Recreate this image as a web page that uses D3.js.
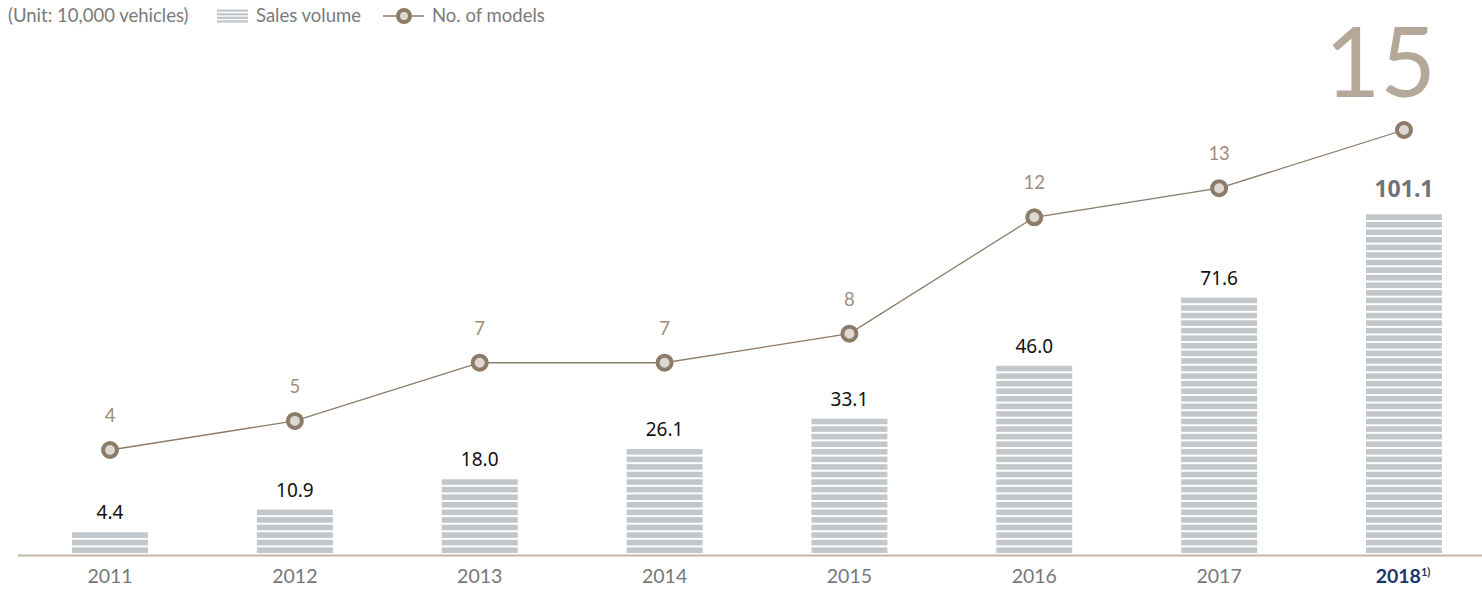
<!DOCTYPE html>
<html>
<head>
<meta charset="utf-8">
<script src="https://cdn.jsdelivr.net/npm/d3@7"></script>
<style>
  body { margin: 0; background: #fff; }
  svg { display: block; }
</style>
</head>
<body>
<script>
var years = ["2011", "2012", "2013", "2014", "2015", "2016", "2017", "2018"];
var sales = [4.4, 10.9, 18.0, 26.1, 33.1, 46.0, 71.6, 101.1];
var models = [4, 5, 7, 7, 8, 12, 13, 15];

var w = 1482;
var h = 589;
var base = 553;      // bottom of the bars
var period = 7.57;   // stripe pitch
var stripeH = 5.6;

var svg = d3.select("body").append("svg")
  .attr("width", w)
  .attr("height", h);

var xScale = d3.scaleBand()
  .domain(years)
  .range([17.6, 1496.4])
  .paddingInner(0.589)
  .paddingOuter(0.2945);

// bar heights in the source are not strictly proportional
var hScale = d3.scaleLinear()
  .domain([0, 4.4, 46, 101.1])
  .range([0, 22, 189, 341]);

var yModel = d3.scaleLinear()
  .domain([4, 15])
  .range([450, 130]);

var bw = xScale.bandwidth();
var cx = function(i) { return xScale(years[i]) + bw / 2; };
var nStripes = function(d) { return Math.round(hScale(d) / period); };

// striped bars
var bars = svg.selectAll(".bar")
  .data(sales)
  .enter()
  .append("g")
  .attr("class", "bar");

bars.each(function(d, i) {
  d3.select(this).selectAll("rect")
    .data(d3.range(nStripes(d)))
    .enter()
    .append("rect")
    .attr("x", xScale(years[i]))
    .attr("width", bw)
    .attr("y", function(k) { return base - (k + 1) * period + (period - stripeH); })
    .attr("height", stripeH)
    .attr("fill", "#c2c7cb");
});

// bar value labels
var last = sales.length - 1;
svg.selectAll(".val")
  .data(sales)
  .enter()
  .append("text")
  .attr("class", "val")
  .attr("x", function(d, i) { return cx(i); })
  .attr("y", function(d, i) {
    var top = base - nStripes(d) * period;
    return i === last ? top - 15 : top - 11;
  })
  .attr("text-anchor", "middle")
  .attr("font-family", "'Noto Sans', sans-serif")
  .attr("font-size", function(d, i) { return i === last ? 23 : 19; })
  .attr("font-weight", function(d, i) { return i === last ? "bold" : "normal"; })
  .attr("fill", function(d, i) { return i === last ? "#6c7379" : "#111"; })
  .text(function(d) { return d.toFixed(1); });

// baseline
svg.append("line")
  .attr("x1", 18)
  .attr("x2", w)
  .attr("y1", 555.5)
  .attr("y2", 555.5)
  .attr("stroke", "#c4b6a8")
  .attr("stroke-width", 2);

// x labels
var xAxis = d3.axisBottom(xScale).tickSize(0).tickPadding(0);
var gx = svg.append("g")
  .attr("transform", "translate(0," + 569 + ")")
  .call(xAxis);
gx.select(".domain").remove();
gx.selectAll("text")
  .attr("font-family", "Lato, sans-serif")
  .attr("font-size", 19.5)
  .attr("fill", "#777")
  .attr("dy", "0.71em");

gx.selectAll(".tick").filter(function(d) { return d === "2018"; })
  .select("text")
  .attr("font-weight", "bold")
  .attr("fill", "#1c3668")
  .attr("dx", -1)
  .text("2018")
  .append("tspan")
  .attr("font-size", 11)
  .attr("dy", "-0.6em")
  .text("1)");

// model line
var line = d3.line()
  .x(function(d, i) { return cx(i); })
  .y(function(d) { return yModel(d); });

svg.append("path")
  .datum(models)
  .attr("d", line)
  .attr("fill", "none")
  .attr("stroke", "#8c7b67")
  .attr("stroke-width", 1.3);

svg.selectAll(".pt")
  .data(models)
  .enter()
  .append("circle")
  .attr("class", "pt")
  .attr("cx", function(d, i) { return cx(i); })
  .attr("cy", function(d) { return yModel(d); })
  .attr("r", 7)
  .attr("fill", "#ddd8d2")
  .attr("stroke", "#8c7b67")
  .attr("stroke-width", 4);

svg.selectAll(".mlab")
  .data(models.slice(0, last))
  .enter()
  .append("text")
  .attr("class", "mlab")
  .attr("x", function(d, i) { return cx(i); })
  .attr("y", function(d) { return yModel(d) - 28; })
  .attr("text-anchor", "middle")
  .attr("font-family", "Lato, sans-serif")
  .attr("font-size", 18.5)
  .attr("fill", "#9d8d78")
  .text(function(d) { return d; });

// big last value
svg.append("text")
  .attr("x", 1436)
  .attr("y", 97)
  .attr("text-anchor", "end")
  .attr("font-family", "Lato, sans-serif")
  .attr("font-weight", 400)
  .attr("font-size", 96)
  .attr("fill", "#b5a898")
  .text(models[last]);

// legend
var legendFont = 18.5;
svg.append("text")
  .attr("x", 8)
  .attr("y", 22)
  .attr("font-family", "Lato, sans-serif")
  .attr("font-size", legendFont)
  .attr("fill", "#7a7a7a")
  .text("(Unit: 10,000 vehicles)");

svg.selectAll(".lgs")
  .data(d3.range(4))
  .enter()
  .append("rect")
  .attr("class", "lgs")
  .attr("x", 217)
  .attr("width", 31)
  .attr("y", function(k) { return 9.5 + k * 3.6; })
  .attr("height", 2.3)
  .attr("fill", "#c2c7cb");

svg.append("text")
  .attr("x", 256)
  .attr("y", 22)
  .attr("font-family", "Lato, sans-serif")
  .attr("font-size", legendFont)
  .attr("fill", "#7a7a7a")
  .text("Sales volume");

svg.append("line")
  .attr("x1", 383)
  .attr("x2", 424)
  .attr("y1", 16)
  .attr("y2", 16)
  .attr("stroke", "#8c7b67")
  .attr("stroke-width", 1.3);

svg.append("circle")
  .attr("cx", 404)
  .attr("cy", 16)
  .attr("r", 6)
  .attr("fill", "#ddd8d2")
  .attr("stroke", "#8c7b67")
  .attr("stroke-width", 4);

svg.append("text")
  .attr("x", 432)
  .attr("y", 22)
  .attr("font-family", "Lato, sans-serif")
  .attr("font-size", legendFont)
  .attr("fill", "#7a7a7a")
  .text("No. of models");
</script>
</body>
</html>
